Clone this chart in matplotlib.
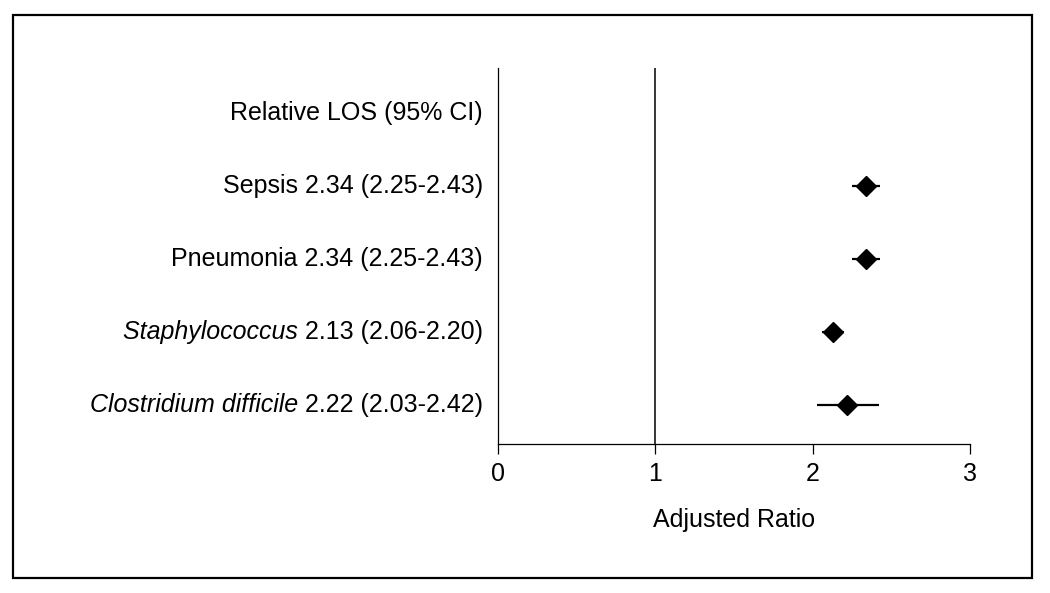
import matplotlib
matplotlib.use("Agg")
import matplotlib.pyplot as plt
from matplotlib import patches
from matplotlib import font_manager

names = {f.name for f in font_manager.fontManager.ttflist}
family = "Liberation Sans Narrow" if "Liberation Sans Narrow" in names else "Liberation Sans"
plt.rcParams["font.family"] = [family, "DejaVu Sans"]

# data
italic_names = ["", "", "Staphylococcus", "Clostridium difficile"]
plain_names = ["Sepsis", "Pneumonia", "", ""]
ratio = [2.34, 2.34, 2.13, 2.22]
ci_low = [2.25, 2.25, 2.06, 2.03]
ci_high = [2.43, 2.43, 2.20, 2.42]
header = "Relative LOS (95% CI)"
xticks = [0, 1, 2, 3]

fig = plt.figure(figsize=(10.5, 5.93), dpi=100)
ax = fig.add_axes([0.4743, 0.2513, 0.4495, 0.634])

n = len(ratio)
ys = [n - i for i in range(n)]

for y, r, lo, hi in zip(ys, ratio, ci_low, ci_high):
    ax.plot([lo, hi], [y, y], color="black", lw=1.6, solid_capstyle="butt")
    ax.plot(r, y, marker="D", color="black", markersize=10)

ax.axvline(1, color="black", lw=1.1)

fs = 18
ax.text(-0.095, n + 1, header, ha="right", va="center", fontsize=fs)
for y, itn, pn, r, lo, hi in zip(ys, italic_names, plain_names, ratio, ci_low, ci_high):
    rest = f"{r:.2f} ({lo:.2f}-{hi:.2f})"
    if pn:
        rest = pn + " " + rest
    t = ax.text(-0.095, y, rest, ha="right", va="center", fontsize=fs)
    if itn:
        ax.annotate(itn + " ", xy=(0, 0.5), xycoords=t, ha="right", va="center",
                    fontsize=fs, style="italic")

ax.set_xlim(0, 3)
ax.set_ylim(0.466, n + 1.616)
ax.set_xticks(xticks)
ax.set_yticks([])
ax.spines["top"].set_visible(False)
ax.spines["right"].set_visible(False)
ax.spines["left"].set_linewidth(0.9)
ax.spines["bottom"].set_linewidth(0.9)
ax.tick_params(axis="x", direction="out", length=7, width=0.9, labelsize=fs, pad=6)
ax.set_xlabel("Adjusted Ratio", fontsize=fs, labelpad=16)

fig.patches.append(patches.Rectangle((13 / 1050, 1 - 578 / 593), 1019 / 1050, 563 / 593,
                                     transform=fig.transFigure, fill=False,
                                     edgecolor="black", linewidth=1.6))

fig.savefig("out.png", dpi=100)
